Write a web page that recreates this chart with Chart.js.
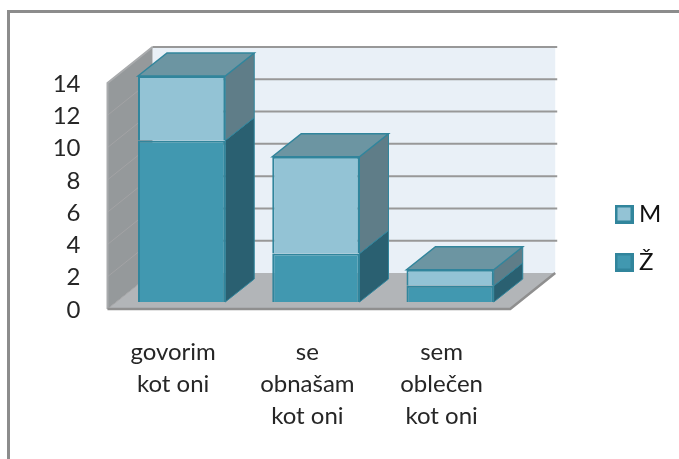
<!DOCTYPE html>
<html>
<head>
<meta charset="utf-8">
<script src="https://cdn.jsdelivr.net/npm/chart.js@4"></script>
<style>
  html, body { margin: 0; padding: 0; background: #fff; }
  #wrap { position: relative; width: 679px; height: 459px; }
</style>
</head>
<body>
<div id="wrap"><canvas id="c" width="679" height="459"></canvas></div>
<script>
const categories = [['govorim', 'kot oni'], ['se', 'obnašam', 'kot oni'], ['sem', 'oblečen', 'kot oni']];
const zenske = [10, 3, 1];
const moski = [4, 6, 1];
const yTicks = [0, 2, 4, 6, 8, 10, 12, 14];

// front / side / top colours per series
const clrZ = { front: '#4198b0', side: '#2a6071', top: '#6c95a2' };
const clrM = { front: '#93c3d5', side: '#5f7d88', top: '#6c95a2' };
const edge = '#31859c';

// depth of the fake 3D box, all relative to the bar plane
const bar3d = { dx: 29, dy: -23 };
const wallBack = { dx: 38, dy: -29 };
const wallFront = { dx: -7, dy: 7 };

function poly(ctx, pts, fill, stroke, lw) {
    ctx.beginPath();
    pts.forEach((p, i) => i ? ctx.lineTo(p[0], p[1]) : ctx.moveTo(p[0], p[1]));
    ctx.closePath();
    ctx.fillStyle = fill;
    ctx.fill();
    if (stroke) { ctx.strokeStyle = stroke; ctx.lineWidth = lw || 1; ctx.stroke(); }
}

// legend swatch as a small canvas, so the text can sit closer than the library's default gap
function swatch(fill) {
    const s = document.createElement('canvas');
    s.width = 19; s.height = 19;
    const g = s.getContext('2d');
    g.fillStyle = fill;
    g.fillRect(0, 0, 19, 19);
    g.strokeStyle = edge;
    g.lineWidth = 3;
    g.strokeRect(1.5, 1.5, 16, 16);
    return s;
}

const walls3d = {
    id: 'walls3d',
    afterLayout(chart) {
        // park the legend where the source has it, chart area stays untouched
        const lg = chart.legend;
        lg.left = 597; lg.right = 679;
        lg.top = 178; lg.bottom = 400;
    },
    beforeDraw(chart) {
        const ctx = chart.ctx;
        // outer frame, only top and left are visible in the source
        ctx.save();
        ctx.strokeStyle = '#8c8c8c';
        ctx.lineWidth = 3;
        ctx.beginPath();
        ctx.moveTo(8.5, 459);
        ctx.lineTo(8.5, 11.5);
        ctx.lineTo(679, 11.5);
        ctx.stroke();
        ctx.restore();
    },
    beforeDatasetsDraw(chart) {
        const ctx = chart.ctx, y = chart.scales.y, a = chart.chartArea;
        const y0 = y.getPixelForValue(0), yMax = y.getPixelForValue(14);
        const fl = a.left + wallFront.dx, fr = a.right + wallFront.dx;
        const bl = a.left + wallBack.dx, br = a.right + wallBack.dx;
        ctx.save();
        // back wall
        poly(ctx, [[bl, yMax + wallBack.dy], [br, yMax + wallBack.dy], [br, y0 + wallBack.dy], [bl, y0 + wallBack.dy]], '#e9f0f7');
        // side wall
        poly(ctx, [[fl, yMax + wallFront.dy], [bl, yMax + wallBack.dy], [bl, y0 + wallBack.dy], [fl, y0 + wallFront.dy]], '#95999b');
        // floor
        poly(ctx, [[fl, y0 + wallFront.dy], [fr, y0 + wallFront.dy], [br, y0 + wallBack.dy], [bl, y0 + wallBack.dy]], '#b2b5b8');
        // gridlines on both walls
        yTicks.forEach(v => {
            const p = y.getPixelForValue(v);
            ctx.beginPath();
            ctx.strokeStyle = '#a3a3a5';
            ctx.lineWidth = 1;
            ctx.moveTo(fl, p + wallFront.dy);
            ctx.lineTo(bl, p + wallBack.dy);
            ctx.stroke();
            if (v > 0) {
                ctx.beginPath();
                ctx.strokeStyle = '#989898';
                ctx.lineWidth = 2;
                ctx.moveTo(bl, p + wallBack.dy);
                ctx.lineTo(br + 2, p + wallBack.dy);
                ctx.stroke();
            }
        });
        // wall edges
        ctx.strokeStyle = '#a9abad';
        ctx.lineWidth = 2;
        ctx.beginPath();
        ctx.moveTo(fl, y0 + wallFront.dy);
        ctx.lineTo(fl, yMax + wallFront.dy);
        ctx.lineTo(bl, yMax + wallBack.dy);
        ctx.stroke();
        ctx.strokeStyle = '#8f8f8f';
        ctx.lineWidth = 2.5;
        ctx.beginPath();
        ctx.moveTo(fl, y0 + wallFront.dy);
        ctx.lineTo(fr, y0 + wallFront.dy);
        ctx.lineTo(br, y0 + wallBack.dy);
        ctx.stroke();

        // side and top faces of the boxes
        chart.data.datasets.forEach((ds, i) => {
            const c = i === 0 ? clrZ : clrM;
            const last = i === chart.data.datasets.length - 1;
            chart.getDatasetMeta(i).data.forEach(el => {
                const r = el.x + el.width / 2, l = el.x - el.width / 2;
                poly(ctx, [[r, el.y], [r + bar3d.dx, el.y + bar3d.dy], [r + bar3d.dx, el.base + bar3d.dy], [r, el.base]], c.side, edge, 1);
                if (last) {
                    poly(ctx, [[l, el.y], [l + bar3d.dx, el.y + bar3d.dy], [r + bar3d.dx, el.y + bar3d.dy], [r, el.y]], c.top, edge, 1.5);
                }
            });
        });
        ctx.restore();
    },
};

new Chart(document.getElementById('c'), {
    type: 'bar',
    data: {
        labels: categories,
        datasets: [
            { label: 'Ž', data: zenske, backgroundColor: clrZ.front, borderColor: edge, borderWidth: 2 },
            { label: 'M', data: moski, backgroundColor: clrM.front, borderColor: edge, borderWidth: 2 },
        ],
    },
    options: {
        responsive: false,
        animation: false,
        layout: { padding: { top: 76, left: 0, right: 87.5, bottom: 0 } },
        datasets: { bar: { barPercentage: 0.65, categoryPercentage: 1 } },
        plugins: {
            tooltip: { enabled: false },
            legend: {
                position: 'right',
                reverse: true,
                align: 'start',
                labels: {
                    usePointStyle: true,
                    pointStyleWidth: 6,
                    padding: 24,
                    color: '#111',
                    font: { family: 'Lato', size: 24 },
                    generateLabels(chart) {
                        return chart.data.datasets.map((ds, i) => ({
                            text: ds.label,
                            datasetIndex: i,
                            pointStyle: swatch(ds.backgroundColor),
                            fontColor: '#111',
                        }));
                    },
                },
            },
        },
        scales: {
            x: {
                stacked: true,
                grid: { display: false },
                border: { display: false },
                ticks: { maxRotation: 0, minRotation: 0, labelOffset: -8.5, padding: 26, color: '#262626', font: { family: 'Lato', size: 24, lineHeight: 1.335 } },
                afterFit(s) { s.height = 157; },
            },
            y: {
                stacked: true,
                min: 0,
                max: 14,
                afterBuildTicks(s) { s.ticks = yTicks.map(v => ({ value: v })); },
                grid: { display: false },
                border: { display: false },
                ticks: { labelOffset: 8, padding: 26, color: '#262626', font: { family: 'Lato', size: 24 } },
                afterFit(s) { s.width = 114.5; },
            },
        },
    },
    plugins: [walls3d],
});
</script>
</body>
</html>
